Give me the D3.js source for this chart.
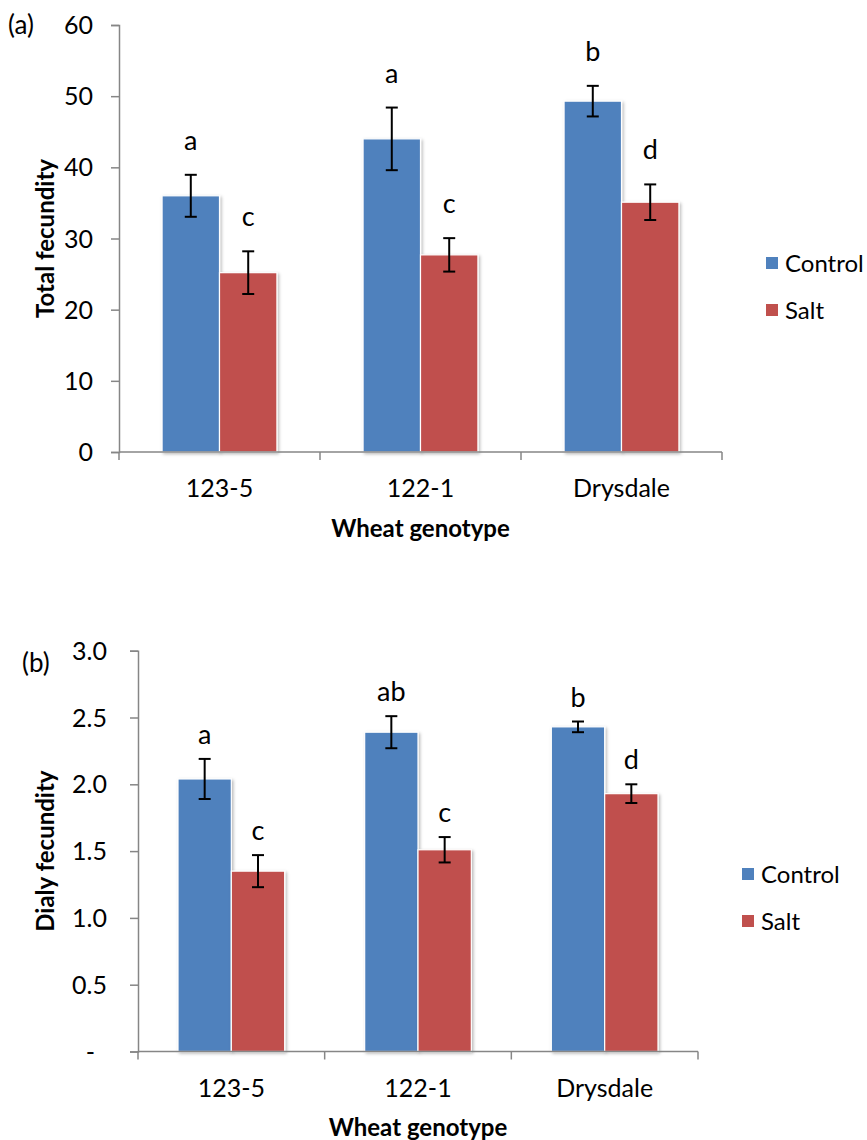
<!DOCTYPE html>
<html>
<head>
<meta charset="utf-8">
<script src="https://cdn.jsdelivr.net/npm/d3@7/dist/d3.min.js"></script>
<style>
  html, body { margin: 0; padding: 0; background: #fff; }
  svg { display: block; font-family: Lato, "Open Sans", sans-serif; }
</style>
</head>
<body>
<svg id="chart" width="867" height="1140"></svg>
<script>
// Genotypes and treatments
const genotypes = ["123-5", "122-1", "Drysdale"];
const treatments = ["Control", "Salt"];

// (a) Total fecundity: means, standard errors, significance letters
const totalControl = [36.0, 44.0, 49.3];
const totalSalt = [25.2, 27.7, 35.1];
const totalControlErr = [2.95, 4.4, 2.15];
const totalSaltErr = [3.0, 2.35, 2.5];
const totalControlLetters = ["a", "a", "b"];
const totalSaltLetters = ["c", "c", "d"];
const totalTicks = [0, 10, 20, 30, 40, 50, 60];

// (b) Daily fecundity: means, standard errors, significance letters
const dailyControl = [2.04, 2.39, 2.43];
const dailySalt = [1.35, 1.51, 1.93];
const dailyControlErr = [0.15, 0.12, 0.04];
const dailySaltErr = [0.12, 0.095, 0.07];
const dailyControlLetters = ["a", "ab", "b"];
const dailySaltLetters = ["c", "c", "d"];
const dailyTicks = [0, 0.5, 1.0, 1.5, 2.0, 2.5, 3.0];

const colors = { Control: "#4F81BD", Salt: "#C0504D" };
const axisGray = "#868686";

const svg = d3.select("#chart");

// soft shadow under the bars
const defs = svg.append("defs");
const f = defs.append("filter").attr("id", "barShadow")
  .attr("x", "-10%").attr("y", "-5%").attr("width", "130%").attr("height", "115%");
f.append("feDropShadow").attr("dx", 1.5).attr("dy", 1.5)
  .attr("stdDeviation", 1.6).attr("flood-color", "#000").attr("flood-opacity", 0.28);

function panel(opts) {
  const g = svg.append("g");
  const x = d3.scaleBand().domain(genotypes).range(opts.xRange).padding(0);
  const xs = d3.scaleBand().domain(treatments).range([0, x.bandwidth()])
    .paddingInner(0).paddingOuter(0.75);
  const y = d3.scaleLinear().domain(opts.yDomain).range(opts.yRange);

  const rows = [];
  genotypes.forEach((gname, i) => {
    rows.push({ g: gname, t: "Control", v: opts.control[i], e: opts.controlErr[i], l: opts.controlLetters[i] });
    rows.push({ g: gname, t: "Salt", v: opts.salt[i], e: opts.saltErr[i], l: opts.saltLetters[i] });
  });

  // y axis
  const yAxis = d3.axisLeft(y).tickValues(opts.ticks).tickSize(8).tickPadding(0)
    .tickFormat(() => "");
  const ya = g.append("g").attr("transform", `translate(${opts.xRange[0]},0)`).call(yAxis);
  ya.select(".domain").attr("stroke", axisGray).attr("stroke-width", 1.5);
  ya.selectAll(".tick line").attr("stroke", axisGray).attr("stroke-width", 1.5);
  g.append("g").selectAll("text").data(opts.ticks).join("text")
    .attr("x", d => opts.xRange[0] - opts.labelGap - (d === 0 && opts.dashZero ? 12 : 0))
    .attr("y", d => y(d))
    .attr("dy", "0.36em")
    .attr("text-anchor", "end")
    .attr("font-size", 25)
    .attr("fill", "#000")
    .text(opts.tickFormat);

  // bars
  g.append("g").selectAll("rect").data(rows).join("rect")
    .attr("x", d => x(d.g) + xs(d.t))
    .attr("y", d => y(d.v))
    .attr("width", xs.bandwidth())
    .attr("height", d => y(0) - y(d.v))
    .attr("fill", d => colors[d.t])
    .attr("stroke", "#fff")
    .attr("stroke-width", 1.2)
    .attr("filter", "url(#barShadow)");

  // x axis: baseline with ticks between categories
  const y0 = y(opts.yDomain[0]);
  const bounds = d3.range(genotypes.length + 1).map(i => opts.xRange[0] + i * x.step());
  g.append("line").attr("x1", opts.xRange[0]).attr("x2", opts.xRange[1])
    .attr("y1", y0).attr("y2", y0).attr("stroke", axisGray).attr("stroke-width", 1.5);
  g.append("g").selectAll("line").data(bounds).join("line")
    .attr("x1", d => d).attr("x2", d => d)
    .attr("y1", y0).attr("y2", y0 + 8)
    .attr("stroke", axisGray).attr("stroke-width", 1.5);
  g.append("g").selectAll("text").data(genotypes).join("text")
    .attr("x", d => x(d) + x.bandwidth() / 2)
    .attr("y", y0 + 36)
    .attr("dy", "0.36em")
    .attr("text-anchor", "middle")
    .attr("font-size", 25)
    .text(d => d);

  // error bars
  const cap = 6;
  const eb = g.append("g").attr("stroke", "#000").attr("stroke-width", 2);
  rows.forEach(d => {
    const cx = x(d.g) + xs(d.t) + xs.bandwidth() / 2;
    const yt = y(d.v + d.e), yb = y(d.v - d.e);
    eb.append("line").attr("x1", cx).attr("x2", cx).attr("y1", yt).attr("y2", yb);
    eb.append("line").attr("x1", cx - cap).attr("x2", cx + cap).attr("y1", yt).attr("y2", yt);
    eb.append("line").attr("x1", cx - cap).attr("x2", cx + cap).attr("y1", yb).attr("y2", yb);
  });

  // significance letters
  g.append("g").selectAll("text").data(rows).join("text")
    .attr("x", d => x(d.g) + xs(d.t) + xs.bandwidth() / 2)
    .attr("y", d => y(d.v + d.e) - opts.letterGap)
    .attr("text-anchor", "middle")
    .attr("font-size", 27)
    .text(d => d.l);

  // axis titles
  g.append("text")
    .attr("x", (opts.xRange[0] + opts.xRange[1]) / 2)
    .attr("y", y0 + 76)
    .attr("dy", "0.36em")
    .attr("text-anchor", "middle")
    .attr("font-size", 24).attr("font-weight", "bold")
    .text("Wheat genotype");
  g.append("text")
    .attr("transform", `translate(${opts.yTitleX},${(opts.yRange[0] + opts.yRange[1]) / 2}) rotate(-90)`)
    .attr("dy", "0.36em")
    .attr("text-anchor", "middle")
    .attr("font-size", 24).attr("font-weight", "bold")
    .text(opts.yTitle);

  // panel tag
  g.append("text").attr("x", opts.tagPos[0]).attr("y", opts.tagPos[1])
    .attr("dy", "0.36em").attr("font-size", 26).text(opts.tag);

  // legend
  const lg = g.append("g").attr("transform", `translate(${opts.legendPos[0]},${opts.legendPos[1]})`);
  treatments.forEach((t, i) => {
    const row = lg.append("g").attr("transform", `translate(0,${i * 47})`);
    row.append("rect").attr("x", 0).attr("y", -6).attr("width", 12).attr("height", 12)
      .attr("fill", colors[t]);
    row.append("text").attr("x", 19).attr("y", 0).attr("dy", "0.36em")
      .attr("font-size", 24).text(t);
  });
}

panel({
  xRange: [119, 722], yRange: [452, 25], yDomain: [0, 60],
  ticks: totalTicks, tickFormat: d => d3.format("d")(d), labelGap: 26, dashZero: false,
  control: totalControl, salt: totalSalt,
  controlErr: totalControlErr, saltErr: totalSaltErr,
  controlLetters: totalControlLetters, saltLetters: totalSaltLetters,
  letterGap: 25, yTitle: "Total fecundity", yTitleX: 45, tag: "(a)", tagPos: [8, 25],
  legendPos: [766, 263]
});

panel({
  xRange: [138, 698], yRange: [1051.5, 650.7], yDomain: [0, 3],
  ticks: dailyTicks, tickFormat: d => d === 0 ? "-" : d3.format(".1f")(d), labelGap: 31, dashZero: true,
  control: dailyControl, salt: dailySalt,
  controlErr: dailyControlErr, saltErr: dailySaltErr,
  controlLetters: dailyControlLetters, saltLetters: dailySaltLetters,
  letterGap: 15, yTitle: "Dialy fecundity", yTitleX: 45, tag: "(b)", tagPos: [22, 663],
  legendPos: [742, 874]
});
</script>
</body>
</html>
